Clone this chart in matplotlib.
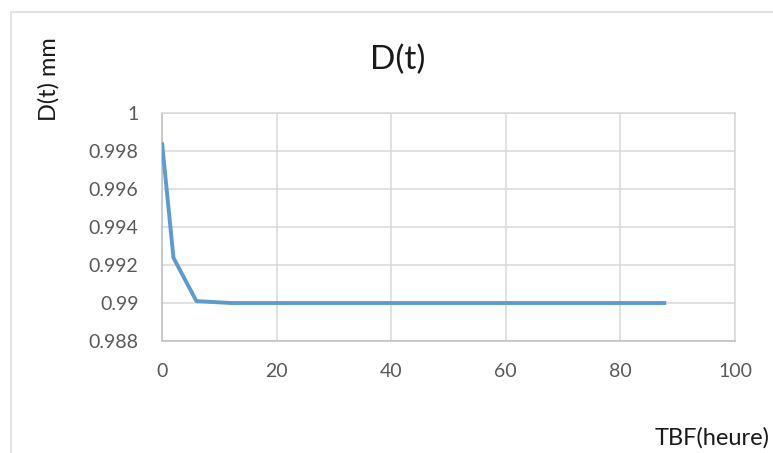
import matplotlib
matplotlib.use("Agg")
import matplotlib.pyplot as plt
from matplotlib.patches import Rectangle

# data
tbf = [0, 2, 6, 12, 24, 48, 88]
d_t = [0.99845, 0.99238, 0.99010, 0.99000, 0.99000, 0.99000, 0.99000]

x_ticks = [0, 20, 40, 60, 80, 100]
y_ticks = [0.988, 0.990, 0.992, 0.994, 0.996, 0.998, 1.000]
y_tick_labels = ["0.988", "0.99", "0.992", "0.994", "0.996", "0.998", "1"]

plt.rcParams['font.family'] = ['Lato', 'DejaVu Sans']

W, H = 773, 453
fig = plt.figure(figsize=(W / 100, H / 100), dpi=100)
fig.patch.set_facecolor("white")

# outer chart frame (only left/top edges show in the crop)
fig.patches.append(Rectangle((11 / W, -0.2), 2.0, 1.2 - 12 / H,
                             transform=fig.transFigure, fill=False,
                             edgecolor="#d9d9d9", linewidth=1.1))

ax = fig.add_axes([162 / W, 1 - 341 / H, (735 - 162) / W, (341 - 113) / H])

ax.plot(tbf, d_t, color="#5b9bd5", linewidth=2.8, solid_capstyle="butt", zorder=3)

ax.set_xlim(0, 100)
ax.set_ylim(0.988, 1.0)
ax.set_xticks(x_ticks)
ax.set_yticks(y_ticks)
ax.set_yticklabels(y_tick_labels)

ax.grid(True, color="#d9d9d9", linewidth=1.1)
ax.set_axisbelow(True)
ax.tick_params(length=0, labelsize=14, labelcolor="#595959")
ax.tick_params(axis="x", pad=16)
ax.tick_params(axis="y", pad=17)

for side in ["top", "right"]:
    ax.spines[side].set_color("#d9d9d9")
    ax.spines[side].set_linewidth(1.1)
for side in ["left", "bottom"]:
    ax.spines[side].set_color("#bfbfbf")
    ax.spines[side].set_linewidth(1.1)

fig.text(398 / W, 1 - 60 / H, "D(t)", fontsize=24, color="#1a1a1a",
         ha="center", va="center")
fig.text(49 / W, 1 - 79 / H, "D(t) mm", fontsize=17, color="#1a1a1a",
         rotation=90, ha="center", va="center")
fig.text(655 / W, 1 - 438 / H, "TBF(heure)", fontsize=17, color="#1a1a1a",
         ha="left", va="center")

fig.savefig("out.png", dpi=100)
